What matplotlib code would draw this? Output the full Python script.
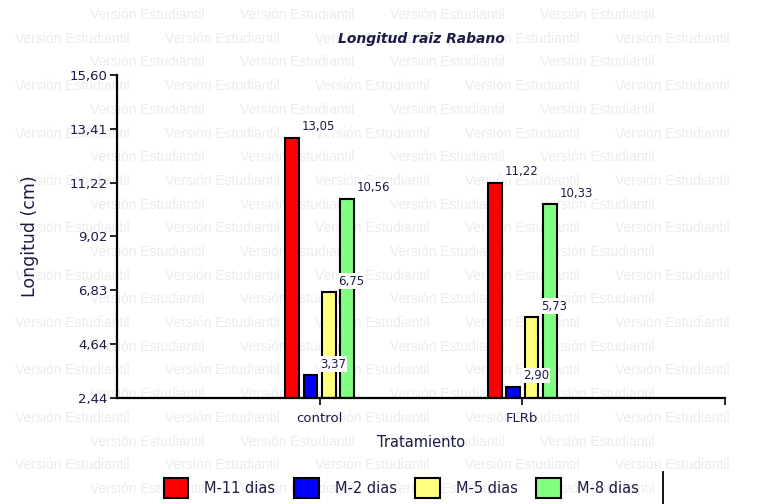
import numpy as np
import matplotlib.pyplot as plt
from matplotlib.lines import Line2D

plt.rcParams['font.family'] = ['DejaVu Sans']

tratamientos = ["control", "FLRb"]
series = ["M-11 dias", "M-2 dias", "M-5 dias", "M-8 dias"]
m11 = [13.05, 11.22]
m2 = [3.37, 2.90]
m5 = [6.75, 5.73]
m8 = [10.56, 10.33]
yticks = [2.44, 4.64, 6.83, 9.02, 11.22, 13.41, 15.60]

colores = ["#ff0000", "#0000ff", "#ffff80", "#80ff80"]
txt_color = "#1c1c48"

fig = plt.figure(figsize=(7.7, 5.04), dpi=100)
ax = fig.add_axes([117 / 770, 1 - 398 / 504, 608 / 770, 323 / 504])
ax.set_facecolor("none")

# marca de agua de la version de estudiante (solo copias completas)
for i in range(21):
    ypx = 15 + 23.7 * i
    x0 = 90 if i % 2 == 0 else 15
    for k in range(6):
        xpx = x0 + 150 * k
        if xpx + 135 > 770:
            break
        fig.text(xpx / 770, 1 - ypx / 504, "Versión Estudiantil", family="Liberation Sans",
                 fontsize=10, color="#ececec", va="center", ha="left", zorder=-5)

x = np.arange(len(tratamientos))
ancho = 0.068
paso = 0.091
for j, (vals, nombre) in enumerate(zip([m11, m2, m5, m8], series)):
    pos = x + (j - 1.5) * paso
    ax.bar(pos, np.array(vals) - 2.44, width=ancho, bottom=2.44, color=colores[j],
           edgecolor="black", linewidth=1.5, label=nombre, zorder=2)
    for p, v in zip(pos, vals):
        ax.annotate(f"{v:.2f}".replace(".", ","), (p + ancho / 2, v),
                    xytext=(2, 8), textcoords="offset points", ha="left", va="center",
                    fontsize=8.5, color=txt_color, zorder=3,
                    bbox=dict(boxstyle="square,pad=0.1", fc="white", ec="none"))

ax.set_xlim(-1, 2)
ax.set_ylim(2.44, 15.60)
ax.set_yticks(yticks)
ax.set_yticklabels([f"{t:.2f}".replace(".", ",") for t in yticks])
ax.set_xticks(list(x) + [2])
ax.set_xticklabels(tratamientos + [""])
ax.tick_params(axis="both", labelsize=9.5, labelcolor=txt_color, length=5, width=1.2,
               direction="out")
ax.tick_params(axis="y", pad=2)
ax.tick_params(axis="x", pad=5)
for s in ["top", "right"]:
    ax.spines[s].set_visible(False)
for s in ["left", "bottom"]:
    ax.spines[s].set_linewidth(1.6)

ax.set_title("Longitud raiz Rabano", fontsize=10, fontweight="bold", style="italic",
             color=txt_color, pad=23)
ax.set_ylabel("Longitud (cm)", fontsize=12.5, color=txt_color, labelpad=22)
ax.set_xlabel("Tratamiento", fontsize=10.5, color=txt_color, labelpad=7)

handles, labels = ax.get_legend_handles_labels()
fig.legend(handles, labels, ncol=4, loc="center", bbox_to_anchor=(401 / 770, 1 - 488 / 504),
           frameon=False, fontsize=10.5, handlelength=1.7, handleheight=1.7,
           columnspacing=1.25, handletextpad=1.1, labelcolor=txt_color)
fig.add_artist(Line2D([663 / 770, 663 / 770], [0, 1 - 472 / 504], color="black",
                      linewidth=1.3, transform=fig.transFigure))

fig.savefig("out.png", dpi=100)
